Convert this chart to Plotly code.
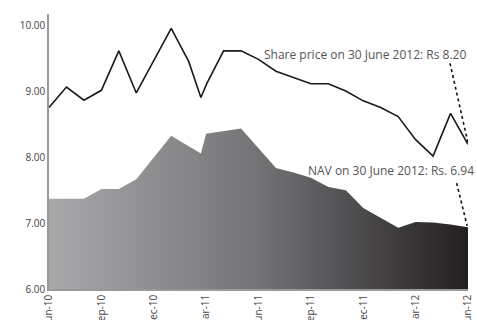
import plotly.graph_objects as go

# x positions in months since Jun-2010
share_month = [0, 1, 2, 3, 4, 5, 7, 8, 8.7, 9.05, 10, 11, 12, 13, 15, 16, 17, 18, 19, 20, 21, 22, 23, 24]
share_price = [8.76, 9.07, 8.87, 9.02, 9.62, 8.98, 9.96, 9.46, 8.91, 9.13, 9.62, 9.62, 9.49, 9.31,
               9.12, 9.12, 9.01, 8.86, 8.76, 8.62, 8.27, 8.02, 8.67, 8.20]

nav_month = [0, 1, 2, 3, 4, 5, 6, 7, 8, 8.7, 9, 10, 11, 12, 13, 14, 15, 16, 17, 18, 19, 20, 21, 22, 23, 24]
nav_value = [7.37, 7.37, 7.37, 7.52, 7.52, 7.67, 8.0, 8.33, 8.17, 8.06, 8.36, 8.40, 8.44, 8.14, 7.84,
             7.77, 7.69, 7.55, 7.50, 7.23, 7.08, 6.93, 7.02, 7.01, 6.98, 6.94]

tick_months = [0, 3, 6, 9, 12, 15, 18, 21, 24]
tick_labels = ["Jun-10", "Sep-10", "Dec-10", "Mar-11", "Jun-11", "Sep-11", "Dec-11", "Mar-12", "Jun-12"]

fig = go.Figure()
fig.add_trace(go.Scatter(
    x=nav_month, y=nav_value, mode="lines", line=dict(width=0, color="#555"),
    fill="tozeroy",
    fillgradient=dict(type="horizontal",
                      colorscale=[[0, "#a9a9ac"], [0.5, "#737376"], [1, "#231f20"]]),
    hoverinfo="skip", showlegend=False))
fig.add_trace(go.Scatter(
    x=share_month, y=share_price, mode="lines",
    line=dict(color="#1a1a1a", width=1.6), showlegend=False))

# dotted leader lines
fig.add_shape(type="line", x0=22.97, y0=9.43, x1=24, y1=8.22,
              line=dict(color="#111", width=1.6, dash="dot"))
fig.add_shape(type="line", x0=23.35, y0=7.61, x1=23.95, y1=6.96,
              line=dict(color="#111", width=1.6, dash="dot"))

fig.add_annotation(x=1.0, xref="paper", y=9.56, xanchor="right", yanchor="middle", showarrow=False,
                   text="Share price on 30 June 2012: Rs 8.20",
                   font=dict(family="Open Sans", size=12, color="#555"))
fig.add_annotation(x=1.018, xref="paper", y=7.80, xanchor="right", yanchor="middle", showarrow=False,
                   text="NAV on 30 June 2012: Rs. 6.94",
                   font=dict(family="Open Sans", size=12, color="#555"))

fig.update_layout(
    width=477, height=320,
    margin=dict(l=49, r=9, t=14, b=31),
    paper_bgcolor="white", plot_bgcolor="white",
    font=dict(family="Open Sans", color="#444"),
    xaxis=dict(range=[0, 24], tickmode="array", tickvals=tick_months, ticktext=tick_labels,
               tickangle=-90, showgrid=False, zeroline=False, showline=True,
               linecolor="#999", linewidth=1.5, ticks="", automargin=False,
               tickfont=dict(size=10, color="#444")),
    yaxis=dict(range=[6, 10.18], tickvals=[6, 7, 8, 9, 10], tickformat=".2f",
               showgrid=False, zeroline=False, showline=True, linecolor="#999",
               linewidth=1.5, ticks="", automargin=False,
               tickfont=dict(size=10, color="#444")),
)
fig.write_html("out.html")
